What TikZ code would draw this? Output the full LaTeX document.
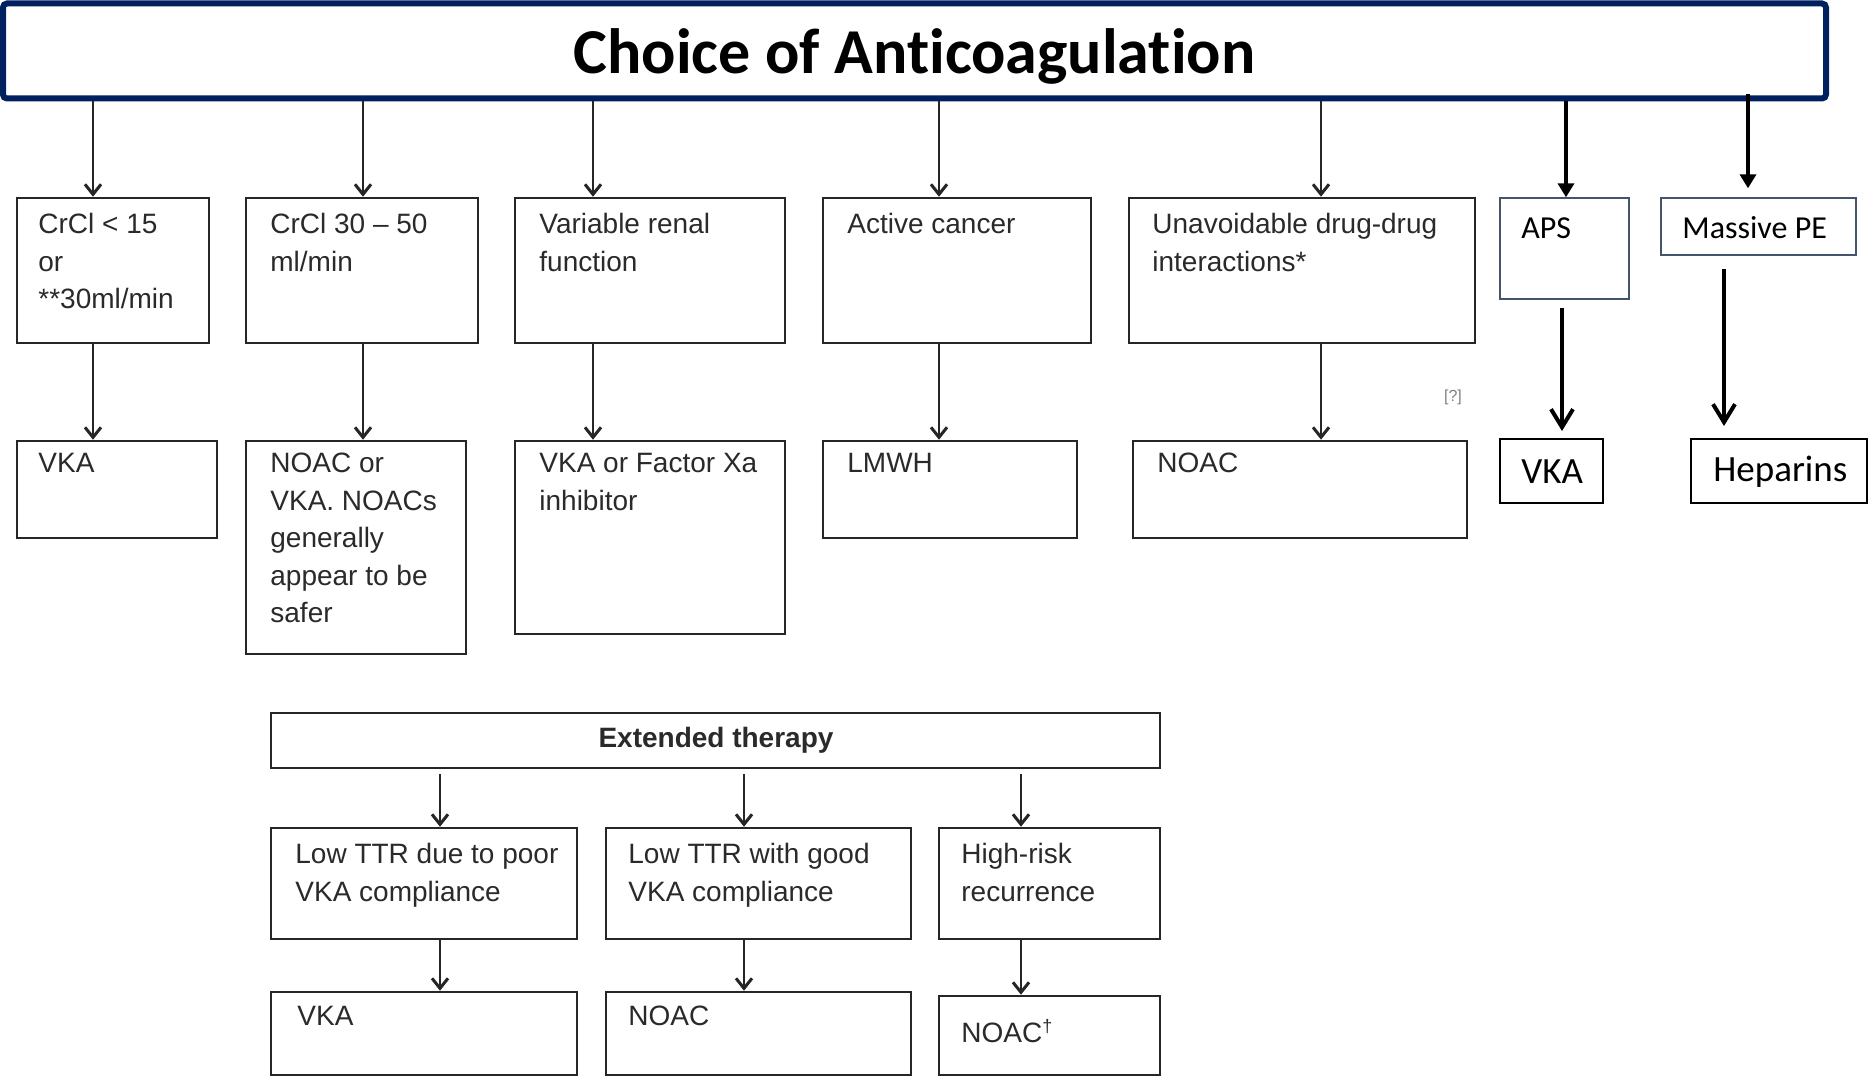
\documentclass[tikz,border=0pt]{standalone}
\usepackage{fontspec}
\setmainfont{Liberation Sans}
\newfontfamily\calib[Ligatures=NoCommon]{Carlito}
\usetikzlibrary{arrows.meta,fit,calc}
\definecolor{navy}{HTML}{002060}
\definecolor{slate}{HTML}{44546A}
\definecolor{txtgray}{HTML}{2A2A2A}
\begin{document}
\begin{tikzpicture}[x=0.5pt,y=-0.5pt,
  box/.style={draw=black!85, line width=1.3pt, inner sep=0pt},
  bluebox/.style={draw=slate, line width=0.7pt, inner sep=0pt},
  cbox/.style={draw=black, line width=1pt, inner sep=0pt},
  txt/.style={anchor=north west, inner sep=0pt, align=left, text=txtgray, font=\fontsize{14}{18.75}\selectfont},
  ctxt/.style={anchor=west, inner sep=0pt, font=\calib\fontsize{16}{19}\selectfont},
  cbig/.style={anchor=west, inner sep=0pt, font=\calib\fontsize{18.5}{22}\selectfont},
  arr/.style={line width=0.9pt, draw=black!85, -{Straight Barb[length=5pt,width=8pt,line width=1.5pt]}},
  tharr/.style={line width=2pt, -{Triangle[length=7pt,width=8pt]}},
  tbarr/.style={line width=2pt, -{Straight Barb[length=9pt,width=11pt,line width=2pt]}},
]
\useasboundingbox (0,0) rectangle (1870,1081);
\fill[white] (0,0) rectangle (1870,1081);

% title
\node[draw=navy, line width=3pt, rounded corners=2pt, inner sep=0pt, fit={(3,3.5) (1826,98.5)}] (title) {};
\node[font=\calib\bfseries\fontsize{32}{38}\selectfont, yshift=-2.5pt] (ttl) at (title.center) {Choice of Anticoagulation};

% column coordinates
\coordinate (k1) at (93,0);
\coordinate (k2) at (363,0);
\coordinate (k3) at (593,0);
\coordinate (k4) at (939,0);
\coordinate (k5) at (1321,0);
\coordinate (ka) at (1566,0);
\coordinate (kp) at (1748,0);
\coordinate (kav) at (1562,0);
\coordinate (kph) at (1724,0);
\coordinate (x1) at (440,0);
\coordinate (x2) at (744,0);
\coordinate (x3) at (1021,0);

% row 1
\node[box, fit={(17,198) (209,343)}] (b1) {};
\node[box, fit={(246,198) (478,343)}] (b2) {};
\node[box, fit={(515,198) (785,343)}] (b3) {};
\node[box, fit={(823,198) (1091,343)}] (b4) {};
\node[box, fit={(1129,198) (1475,343)}] (b5) {};
\node[bluebox, fit={(1500,198) (1629,299)}] (aps) {};
\node[bluebox, fit={(1661,198) (1856,255)}] (mpe) {};

\node[txt] (t1) at (38,213) {CrCl < 15\\or\\**30ml/min};
\node[txt] (t2) at (270,213) {CrCl 30 – 50\\ml/min};
\node[txt] (t3) at (539,213) {Variable renal\\function};
\node[txt] (t4) at (847,213) {Active cancer};
\node[txt] (t5) at (1152,213) {Unavoidable drug-drug\\interactions*};
\node[ctxt] (t6) at (1521,228) {APS};
\node[ctxt] (t7) at (1682,228) {Massive PE};

% row 2
\node[box, fit={(17,441) (217,538)}] (c1) {};
\node[box, fit={(246,441) (466,654)}] (c2) {};
\node[box, fit={(515,441) (785,634)}] (c3) {};
\node[box, fit={(823,441) (1077,538)}] (c4) {};
\node[box, fit={(1133,441) (1467,538)}] (c5) {};
\node[cbox, fit={(1500,439) (1603,503)}] (vka) {};
\node[cbox, fit={(1691,439) (1867,503)}] (hep) {};

\node[txt] (u1) at (38,453) {VKA};
\node[txt] (u2) at (270,453) {NOAC or\\VKA. NOACs\\generally\\appear to be\\safer};
\node[txt] (u3) at (539,453) {VKA or Factor Xa\\inhibitor};
\node[txt] (u4) at (847,453) {LMWH};
\node[txt] (u5) at (1157,453) {NOAC};
\node[cbig] (u6) at (1521,472) {VKA};
\node[cbig] (u7) at (1713,472) {Heparins};
\node[inner sep=0pt, text=gray, font=\fontsize{8}{9}\selectfont] (q) at (1453,397) {[?]};

% extended therapy
\node[box, fit={(271,713) (1160,768)}] (ext) {};
\node[inner sep=0pt, text=txtgray, font=\bfseries\fontsize{14}{17}\selectfont] (extt) at (716,740) {Extended therapy};

\node[box, fit={(271,828) (577,939)}] (d1) {};
\node[box, fit={(606,828) (911,939)}] (d2) {};
\node[box, fit={(939,828) (1160,939)}] (d3) {};
\node[txt] (v1) at (295,843) {Low TTR due to poor\\VKA compliance};
\node[txt] (v2) at (628,843) {Low TTR with good\\VKA compliance};
\node[txt] (v3) at (961,843) {High-risk\\recurrence};

\node[box, fit={(271,992) (577,1075)}] (e1) {};
\node[box, fit={(606,992) (911,1075)}] (e2) {};
\node[box, fit={(939,996) (1160,1075)}] (e3) {};
\node[txt] (w1) at (297,1006) {VKA};
\node[txt] (w2) at (628,1006) {NOAC};
\node[txt] (w3) at (961,1019) {NOAC\textsuperscript{\fontsize{9}{10}\selectfont †}};

% arrows title -> row 1
\foreach \k/\b in {k1/b1,k2/b2,k3/b3,k4/b4,k5/b5}{
  \draw[arr] (title.south -| \k) -- (\b.north -| \k);
}
\draw[tharr] (title.south -| ka) -- (aps.north -| ka);
\draw[tharr] ($(title.south -| kp)+(0,-7)$) -- ($(mpe.north -| kp)+(0,-9)$);

% row1 -> row2
\draw[arr] (b1.south -| k1) -- (c1.north -| k1);
\draw[arr] (b2.south -| k2) -- (c2.north -| k2);
\draw[arr] (b3.south -| k3) -- (c3.north -| k3);
\draw[arr] (b4.south -| k4) -- (c4.north -| k4);
\draw[arr] (b5.south -| k5) -- (c5.north -| k5);
\draw[tbarr] ($(aps.south -| kav)+(0,8)$) -- ($(vka.north -| kav)+(0,-7)$);
\draw[tbarr] ($(mpe.south -| kph)+(0,13)$) -- ($(hep.north -| kph)+(0,-12)$);

% extended arrows
\draw[arr] ($(ext.south -| x1)+(0,5)$) -- (d1.north -| x1);
\draw[arr] ($(ext.south -| x2)+(0,5)$) -- (d2.north -| x2);
\draw[arr] ($(ext.south -| x3)+(0,5)$) -- (d3.north -| x3);
\draw[arr] (d1.south -| x1) -- (e1.north -| x1);
\draw[arr] (d2.south -| x2) -- (e2.north -| x2);
\draw[arr] (d3.south -| x3) -- (e3.north -| x3);
\end{tikzpicture}
\end{document}
